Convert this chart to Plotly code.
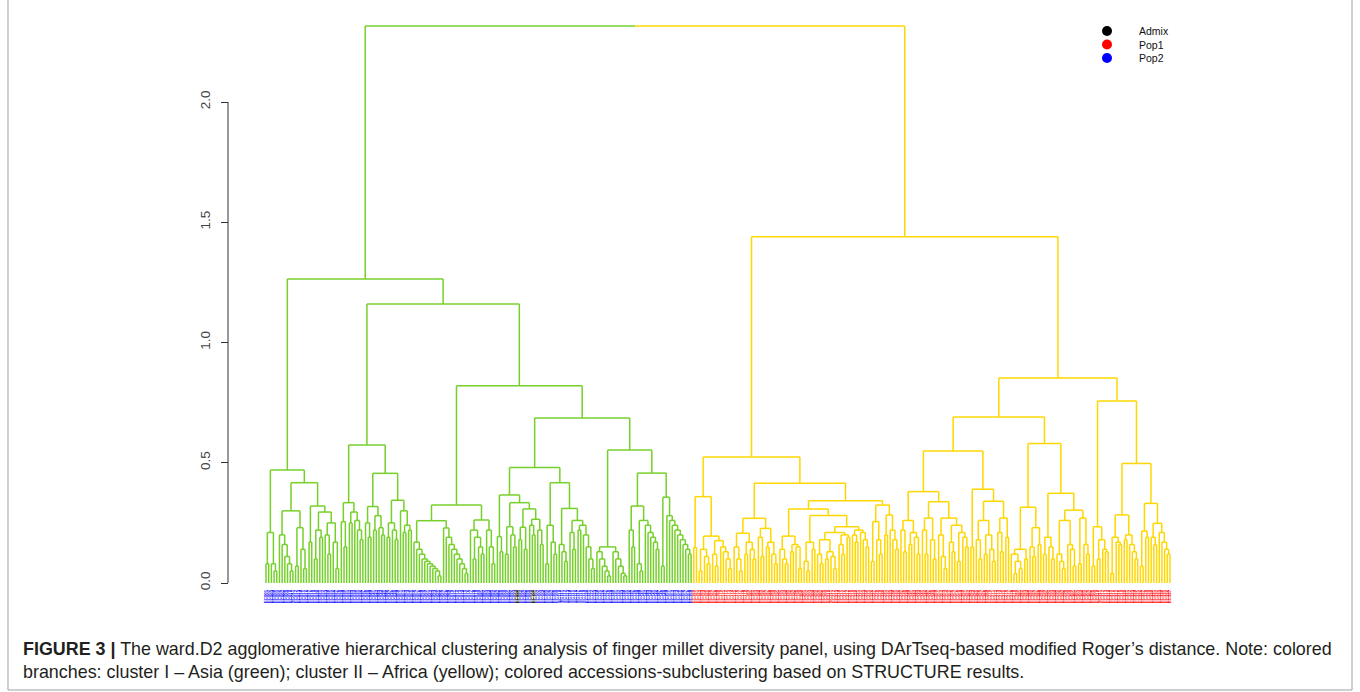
import plotly.graph_objects as go

# ---------------- data ----------------
# Dendrogram topology (Newick-like): leaves are population codes
# b = Pop2, r = Pop1, k = Admix ; number after ')' = merge height x 100
GREEN_TREE = (
    "((((b,b)8,(b,(b,b)5)8)21,"
    "(((b,(b,(b,(b,(b,b)5)8)11)16)20,((b,b)7,(b,(b,b)6)14)23)30,"
    "((b,b)17,(((b,b)10,(b,b)19)22,((b,(b,b)12)20,(b,(b,b)6)17)25)29.5)32)41.7)47,"
    "((((b,(b,b)15)25.5,((b,b)25,(b,(b,(b,b)18)22)26)29.5)33.4,"
    "(((b,(b,b)19)25,((b,b)22,(b,(b,b)20)23)28)31.8,(((b,b)19,(b,(b,b)18)22)25,(b,((b,b)21,(b,b)22)24)30)34.4)45.6)57.4,"
    "((((b,(b,(b,(b,(b,(b,(b,(b,(b,(b,b)3)5)6)7)8)9)10)12)14)17,(b,(b,(b,(b,(b,(b,(b,(b,(b,b)4)6)8)10)12)14)16)19)22.9)25.9,"
    "((b,((b,b)10,(b,(b,b)12)15)19)22,(b,(b,(b,b)8)15)22)26.2)32.4,"
    "((((b,(b,b)13)19.3,(((b,b)12,(b,(b,k)15)20)23.4,(((k,b)18,(b,b)14)23.2,((b,(k,k)20)24,(b,(b,b)16)22)26.5)30.8)33.4)36.6,"
    "(((b,b)8,(b,(b,b)12)17)24,((b,(b,(b,b)9)13)16,((b,(b,b)14)21,((b,b)22,(b,(b,(b,(b,b)6)10)15)20)24)26)31)41.7)48,"
    "(((b,(b,(b,(b,(b,b)3)5)7)10)13,(b,(b,(b,(b,(b,b)3)4)7)10)13)15,"
    "(((b,(b,b)15)22,((b,(b,b)5)8,(b,(b,(b,(b,(b,b)14)17)19)21)24)26)32,"
    "((b,b)7,(b,(b,(b,(b,(b,(b,(b,(b,(b,b)12)14)16)18)20)22)24)26)28)35.7)45.7)55.3)68.6)82)116)126.4"
)
YELLOW_TREE = (
    "((((r,r)14.8,(((r,r)5,(r,(r,r)8)11)14,((r,(r,r)7)12,(r,(r,(r,(r,r)6)10)13)15)17.6)19.5)35.9,"
    "((((r,(r,(r,r)5)10)15,((r,r)12,(r,(r,r)10)14)17)20.7,((r,(r,r)11)19,((r,r)15,(r,(r,r)8)12)17)22.7)26.9,"
    "((((r,(r,(r,r)8)10)14,((r,r)13,(r,(r,r)6)15)16)19.5,"
    "(((r,(r,r)5)9,(r,r)14)17,((((r,(r,r)8)12,((r,r)10,(r,(r,r)6)11)13)18,((r,(r,r)12)16,(r,r)19)20)21,"
    "((r,(r,r)17)20,(r,(r,(r,r)15)18)21)22)23.4)28.1)30.8,"
    "(((r,r)9,(r,(r,r)12)18)25.5,((r,r)20,(r,(r,(r,r)14)18)22)28.3)32.4)34.2)41.5)52.4,"
    "((((((r,(r,r)13)22,((r,r)16,(r,(r,r)12)19)21)26,"
    "(((r,(r,r)12)22,(r,(r,r)10)18)27,((r,(r,(r,r)6)11)20,((r,(r,r)13)17,((r,r)9,(r,(r,r)15)19)21)24)27)33.8)38,"
    "((r,r)15,(((r,(r,r)10)18,((r,r)12,(r,(r,r)9)14)20)26,((r,(r,r)13)21,(r,r)19)27)34)39)54.9,"
    "((((r,((r,r)4,(r,r)6)9)12,(r,r)10)14,((r,(r,r)11)15,(r,r)16)23)31.5,"
    "(((r,r)12,(r,(r,r)10)15)19,(((r,(r,(r,r)6)9)12,(r,(r,(r,r)7)14)16)26,((r,r)8,(r,(r,r)12)16)27)30.3)37.3)58)69,"
    "(((r,r)7,((r,r)10,(r,(r,r)13)14)18)23.4,"
    "((((r,r)4,(r,(r,r)16)17)19,((r,r)18,(r,(r,(r,r)10)13)16)20)28.3,"
    "(((r,r)7,(r,r)19)21.6,((r,(r,r)16)19,(r,(r,(r,(r,r)12)14)17)21)24.8)33.1)49.7)75.7)85.2)144"
)
ROOT_HEIGHT = 2.316

CLUSTER_COLORS = {"green": "#76D02B", "yellow": "#FFD700"}
POP_COLORS = {"k": "#000000", "r": "#FF0000", "b": "#0000FF"}

Y_TICKS = [0.0, 0.5, 1.0, 1.5, 2.0]
Y_TICK_LABELS = ["0.0", "0.5", "1.0", "1.5", "2.0"]

LEGEND_LABELS = ["Admix", "Pop1", "Pop2"]
LEGEND_COLORS = ["#000000", "#FF0000", "#0000FF"]

CAPTION = ("<b>FIGURE 3 |</b> The ward.D2 agglomerative hierarchical clustering analysis of finger millet "
           "diversity panel, using DArTseq-based modified Roger\u2019s distance. Note: colored<br>"
           "branches: cluster I \u2013 Asia (green); cluster II \u2013 Africa (yellow); colored "
           "accessions-subclustering based on STRUCTURE results.")

# ---------------- tree handling ----------------
def parse(s):
    pos = 0

    def node():
        nonlocal pos
        c = s[pos]
        if c == "(":
            pos += 1
            left = node()
            assert s[pos] == ","
            pos += 1
            right = node()
            assert s[pos] == ")"
            pos += 1
            st = pos
            while pos < len(s) and (s[pos].isdigit() or s[pos] == "."):
                pos += 1
            return {"h": float(s[st:pos]) / 100.0, "kids": [left, right]}
        pos += 1
        return {"h": 0.0, "leaf": c}

    t = node()
    assert pos == len(s)
    return t


leaves = []


def place(n):
    if "leaf" in n:
        n["x"] = float(len(leaves))
        leaves.append(n["leaf"])
    else:
        for k in n["kids"]:
            place(k)
        n["x"] = (n["kids"][0]["x"] + n["kids"][1]["x"]) / 2.0


def segments(n, xs, ys):
    if "leaf" in n:
        return
    a, b = n["kids"]
    for k in (a, b):
        xs += [k["x"], k["x"], None]
        ys += [k["h"], n["h"], None]
        segments(k, xs, ys)
    xs += [a["x"], b["x"], None]
    ys += [n["h"], n["h"], None]


green = parse(GREEN_TREE)
yellow = parse(YELLOW_TREE)
place(green)
place(yellow)
N = len(leaves)

fig = go.Figure()
mid = (green["x"] + yellow["x"]) / 2.0
for tree, col in ((green, "green"), (yellow, "yellow")):
    xs, ys = [], []
    segments(tree, xs, ys)
    xs += [tree["x"], tree["x"], None]
    ys += [tree["h"], ROOT_HEIGHT, None]
    xs += [mid, tree["x"], None]
    ys += [ROOT_HEIGHT, ROOT_HEIGHT, None]
    fig.add_trace(go.Scatter(x=xs, y=ys, mode="lines",
                             line=dict(color=CLUSTER_COLORS[col], width=1.5),
                             hoverinfo="skip", showlegend=False))

# ---------------- layout (pixel mapping) ----------------
W, H = 1360, 692
LEAF_X0, LEAF_X1 = 266, 1170
Y0_PX, PX_PER_UNIT = 583, 240.5
step = (LEAF_X1 - LEAF_X0) / (N - 1)
x_range = [-LEAF_X0 / step, (W - LEAF_X0) / step]
y_range = [-(H - Y0_PX) / PX_PER_UNIT, Y0_PX / PX_PER_UNIT]

tick_text = ["<span style='color:%s'><b>EC%03d</b></span>" % (POP_COLORS[c], i + 1)
             for i, c in enumerate(leaves)]

fig.update_layout(
    width=W, height=H,
    margin=dict(l=0, r=0, t=0, b=0, pad=0),
    paper_bgcolor="white", plot_bgcolor="white",
    font=dict(family="Liberation Sans, Arial, sans-serif"),
    xaxis=dict(domain=[0, 1], range=x_range, showgrid=False, zeroline=False,
               showline=False, ticks="", tickmode="array",
               tickvals=list(range(N)), ticktext=tick_text, tickangle=-90,
               tickfont=dict(size=4.3), anchor="free", position=1 - 588 / H,
               fixedrange=True),
    yaxis=dict(domain=[0, 1], range=y_range, showgrid=False, zeroline=False,
               showline=False, ticks="outside", ticklen=7, tickwidth=1,
               tickcolor="#333333", tickmode="array", tickvals=Y_TICKS,
               ticktext=Y_TICK_LABELS, tickangle=-90, ticklabelstandoff=6,
               tickfont=dict(size=13.5, color="#444444"),
               anchor="free", position=228 / W, fixedrange=True),
)

def px(xp):
    return xp / W

def py(yp):
    return 1 - yp / H

# R-style axis line spanning only the tick range
fig.add_shape(type="line", xref="paper", yref="y", x0=px(228), x1=px(228),
              y0=Y_TICKS[0], y1=Y_TICKS[-1], line=dict(color="#333333", width=1))

# legend (top right)
for i, (lab, col) in enumerate(zip(LEGEND_LABELS, LEGEND_COLORS)):
    cy = 31 + 13.5 * i
    fig.add_shape(type="circle", xref="paper", yref="paper",
                  x0=px(1102), x1=px(1112), y0=py(cy + 5), y1=py(cy - 5),
                  fillcolor=col, line=dict(color=col, width=0))
    fig.add_annotation(xref="paper", yref="paper", x=px(1137), y=py(cy),
                       xanchor="left", yanchor="middle", text=lab, showarrow=False,
                       font=dict(size=10.5, color="#111111"))

# figure frame (left, right, bottom)
fig.add_shape(type="path", xref="paper", yref="paper",
              path="M %f,%f L %f,%f L %f,%f L %f,%f" % (px(8), py(-2), px(8), py(690),
                                                        px(1352), py(690), px(1352), py(-2)),
              line=dict(color="#A0A0A0", width=1))
fig.add_annotation(xref="paper", yref="paper", x=px(21), y=py(637),
                   xanchor="left", yanchor="top", align="left", text=CAPTION,
                   showarrow=False, font=dict(size=17.9, color="#231F20"))

fig.write_html("out.html", config={"displayModeBar": False},
               post_script="document.body.style.margin='0px';document.body.style.overflow='hidden';")
